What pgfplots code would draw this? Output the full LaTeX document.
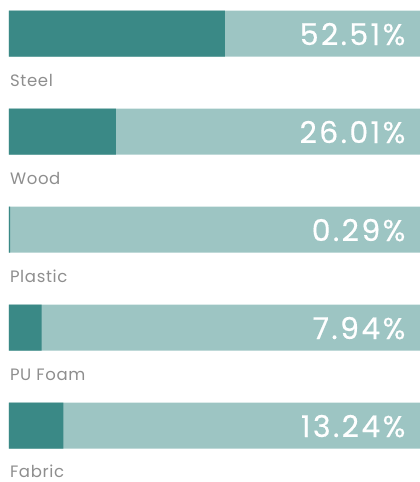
\documentclass[border=0pt]{standalone}
\usepackage{pgfplots}
\pgfplotsset{compat=1.18}
\usepackage{fontspec}
\setmainfont{Poppins}
\newfontfamily\pctfont{Poppins}[LetterSpace=8, FakeBold=0.4]
\newfontfamily\labfont{Poppins}[LetterSpace=4]
\definecolor{darkteal}{HTML}{3A8986}
\definecolor{lightteal}{HTML}{9DC5C3}
\definecolor{labgray}{HTML}{8E8E8E}
\begin{document}
\begin{tikzpicture}
\useasboundingbox (0,0) rectangle (420pt,482pt);
\begin{axis}[
  at={(9pt,0pt)}, anchor=south west,
  scale only axis, width=411pt, height=482pt,
  xmin=0, xmax=100, ymin=0, ymax=482,
  y dir=reverse,
  axis lines=none, ticks=none,
  clip=false,
]
\addplot[xbar, bar shift=0pt, bar width=46, fill=lightteal, draw=none]
  coordinates {(100,33.5) (100,131.5) (100,229.5) (100,327.5) (100,425.5)};
\addplot[xbar, bar shift=0pt, bar width=46, fill=darkteal, draw=none]
  coordinates {(52.51,33.5) (26.01,131.5) (0.29,229.5) (7.94,327.5) (13.24,425.5)};
\begin{scope}[every node/.style={inner sep=0pt, font=\labfont\fontsize{16.5}{16.5}\selectfont, text=labgray, anchor=base west}]
\node at (axis cs:0.2,86.5) {Steel};
\node at (axis cs:0.2,184.5) {Wood};
\node at (axis cs:0.2,282.5) {Plastic};
\node at (axis cs:0.2,380.5) {PU Foam};
\node at (axis cs:0.2,477.5) {Fabric};
\end{scope}
\begin{scope}[every node/.style={inner sep=0pt, font=\pctfont\fontsize{30}{30}\selectfont, text=white, anchor=base east}]
\node at (axis cs:96.5,45) {52.51\%};
\node at (axis cs:96.5,143) {26.01\%};
\node at (axis cs:96.5,241) {0.29\%};
\node at (axis cs:96.5,339) {7.94\%};
\node at (axis cs:96.5,437) {13.24\%};
\end{scope}
\end{axis}
\end{tikzpicture}
\end{document}
